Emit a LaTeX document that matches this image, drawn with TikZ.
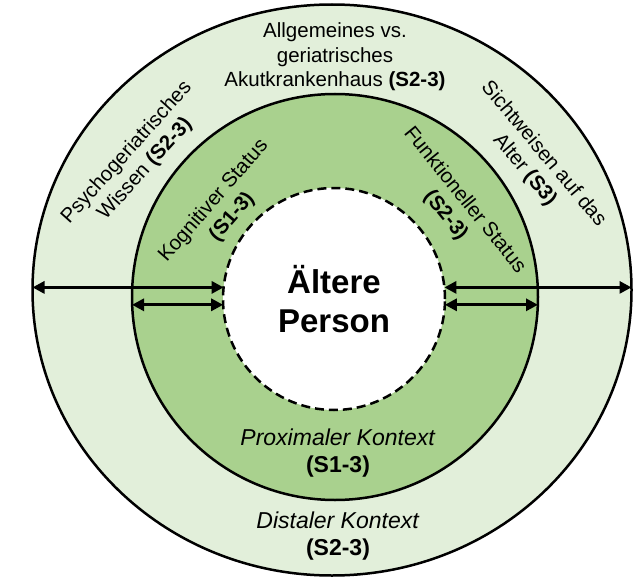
\documentclass[tikz,border=0pt]{standalone}
\usepackage{fontspec}
\setmainfont{Liberation Sans}
\usepackage{tikz}
\usetikzlibrary{arrows.meta}
\usetikzlibrary{shapes.geometric}
\definecolor{distalgreen}{HTML}{E2EFDA}
\definecolor{proximalgreen}{HTML}{A9D18E}
\newcommand*{\ringLabel}[4]{%
  \node [ringtext, rotate=#3] (#1) at (#2) {%
    #4
  };
}

\begin{document}
\begin{tikzpicture}[x=1pt, y=-1pt,
    ring/.style={draw, line width=2.5pt, inner sep=0pt, outer sep=0pt},
    ringtext/.style={align=center, inner sep=0pt,
                     font=\fontsize{20.5}{24.5}\selectfont},
    context/.style={align=center, inner sep=0pt,
                    font=\fontsize{23}{27}\selectfont},
    reach/.style={{Triangle[length=12pt, width=12pt]}-{Triangle[length=12pt, width=12pt]},
                  line width=3pt}]

\useasboundingbox (0,0) rectangle (640,578);
%
\node (distal) [ring, ellipse, fill=distalgreen,
                minimum width=599pt, minimum height=571pt] at (332,290) {};
\node (proximal) [ring, circle, fill=proximalgreen,
                  minimum size=406pt] at (335,297) {};
\node (person) [ring, circle, fill=white, dash pattern=on 9pt off 5pt,
                minimum size=222pt, align=center,
                font=\bfseries\fontsize{33}{39}\selectfont] at (334,299) {Ältere\\Person};
%
\draw [reach] (distal.west |- person.174) -- (person.174);
\draw [reach] (person.6) -- (distal.east |- person.6);
\draw [reach] (proximal.west |- person.183) -- (person.183);
\draw [reach] (person.-3) -- (proximal.east |- person.-3);
%
\ringLabel{hospital}{335,57}{0}{Allgemeines vs.\\geriatrisches\\Akutkrankenhaus \textbf{(S2-3)}}
\ringLabel{knowledge}{136,161}{48}{Psychogeriatrisches\\Wissen \textbf{(S2-3)}}
\ringLabel{views}{534,162}{-50}{Sichtweisen auf das\\Alter \textbf{(S3)}}
\ringLabel{cognitive}{223,209}{49}{Kognitiver Status\\\textbf{(S1-3)}}
\ringLabel{functional}{455,208}{-51}{Funktioneller Status\\\textbf{(S2-3)}}
%
\node (proxtext) [context] at (338,453) {\textit{Proximaler Kontext}\\\textbf{(S1-3)}};
\node (disttext) [context] at (338,536) {\textit{Distaler Kontext}\\\textbf{(S2-3)}};
\end{tikzpicture}
\end{document}
